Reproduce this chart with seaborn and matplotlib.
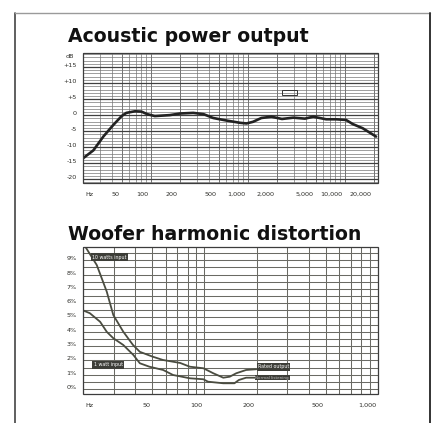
import numpy as np
import pandas as pd
import matplotlib
matplotlib.use("Agg")
import matplotlib.pyplot as plt
import matplotlib.transforms as mtrans
from matplotlib.ticker import FixedLocator, LogLocator, NullFormatter, MultipleLocator
from matplotlib.patches import Rectangle
from matplotlib.lines import Line2D
import seaborn as sns

# ---------------- data ----------------
power_freq = [20, 25.6, 32.4, 41, 50, 56, 68.6, 80, 92, 110, 157, 200, 274, 350, 440,
              605, 832, 970, 1130, 1380, 1750, 2250, 2950, 3880, 4730, 6420, 8100,
              10300, 12100, 15300, 21000]
power_db = [-13.5, -11.0, -6.7, -3.1, -0.3, 0.7, 1.2, 1.1, 0.3, -0.3, 0.0, 0.5, 0.7, 0.3,
            -0.9, -1.7, -2.4, -2.6, -2.1, -0.9, -0.5, -1.2, -0.8, -1.1, -0.5, -1.3, -1.3,
            -1.5, -2.8, -4.1, -6.7]

dist_freq_10w = [20.5, 24, 27.4, 29.9, 34.1, 38.8, 42.5, 50.4, 57.7, 65.8, 72.6, 82.4,
                 98.7, 112.6, 128.5, 140, 152.6, 174, 199]
dist_pct_10w = [10.0, 8.67, 6.81, 5.17, 4.01, 3.08, 2.6, 2.26, 2.03, 1.91, 1.82, 1.56,
                1.45, 1.1, 0.79, 0.86, 1.1, 1.33, 1.38]
dist_freq_1w = [20, 21.9, 25.1, 27.4, 29.9, 34.1, 39, 42.5, 48.2, 57.9, 66, 82.4, 98.7,
                105, 128.5, 149, 158, 174, 199]
dist_pct_1w = [5.5, 5.3, 4.7, 4.0, 3.55, 3.08, 2.38, 1.8, 1.56, 1.33, 0.98, 0.75, 0.68,
               0.51, 0.4, 0.4, 0.63, 0.79, 0.79]

power_yticks = [15, 10, 5, 0, -5, -10, -15, -20]
power_ylabels = ["+15", "+10", "+5", "0", "-5", "-10", "-15", "-20"]
power_xticks = [20, 50, 100, 200, 500, 1000, 2000, 5000, 10000, 20000]
power_xlabels = ["Hz", "50", "100", "200", "500", "1,000", "2,000", "5,000", "10,000", "20,000"]

dist_yticks = [9, 8, 7, 6, 5, 4, 3, 2, 1, 0]
dist_ylabels = ["9%", "8%", "7%", "6%", "5%", "4%", "3%", "2%", "1%", "0%"]
dist_xticks = [20, 50, 100, 200, 500, 1000]
dist_xlabels = ["Hz", "50", "100", "200", "500", "1,000"]

titles = ["Acoustic power output", "Woofer harmonic distortion"]

# ---------------- style ----------------
sns.set_style("white")
plt.rcParams["font.family"] = ["DejaVu Sans"]

W, H = 435, 423
fig = plt.figure(figsize=(W / 100, H / 100), dpi=100)
fig.patch.set_facecolor("white")

def fx(px):
    return px / W

def fy(py):
    return 1 - py / H

ink = "#2e2e2a"
tick_fs = 4.6


def setup_axes(ax, xticks, xlabels, yticks, ylabels):
    for s in ax.spines.values():
        s.set_visible(False)
    ax.spines["bottom"].set_position(("outward", 3.6))
    ax.add_patch(Rectangle((0, 0), 1, 1, transform=ax.transAxes, fill=False,
                           ec="#3c3c3c", lw=0.9, clip_on=False, zorder=5))
    ax.set_xticks(xticks)
    ax.set_xticklabels(xlabels)
    ax.set_yticks(yticks)
    ax.set_yticklabels(ylabels)
    ax.tick_params(axis="x", which="major", direction="out", length=10, width=0.8,
                   color="#555555", pad=-7.4, labelsize=tick_fs, labelcolor=ink)
    ax.tick_params(axis="y", which="major", direction="out", length=3, width=0.8,
                   color="#555555", pad=1.5, labelsize=tick_fs, labelcolor=ink)
    ax.tick_params(which="minor", length=0)
    for lbl, txt in zip(ax.get_xticklabels(), xlabels):
        if txt == "Hz":
            lbl.set_horizontalalignment("left")
            off = mtrans.ScaledTranslation(2 / 72, 0, fig.dpi_scale_trans)
        else:
            lbl.set_horizontalalignment("right")
            off = mtrans.ScaledTranslation(-1.5 / 72, 0, fig.dpi_scale_trans)
        lbl.set_transform(lbl.get_transform() + off)
    for lbl in ax.get_yticklabels():
        lbl.set_transform(lbl.get_transform() +
                          mtrans.ScaledTranslation(0, 1.5 / 72, fig.dpi_scale_trans))


# ---------------- top chart ----------------
ax1 = fig.add_axes([fx(83), fy(183), fx(295), 130 / H])
ax1.set_xscale("log")
df1 = pd.DataFrame({"freq": power_freq, "db": power_db})
sns.lineplot(data=df1, x="freq", y="db", ax=ax1, color="#222222", lw=1.9, zorder=4,
             estimator=None)
ax1.set_xlim(20, 22000)
ax1.set_ylim(-21.2, 19.4)
setup_axes(ax1, power_xticks, power_xlabels, power_yticks, power_ylabels)
ax1.xaxis.set_minor_locator(LogLocator(base=10, subs=np.arange(1, 10), numticks=50))
ax1.xaxis.set_minor_formatter(NullFormatter())
ax1.yaxis.set_minor_locator(MultipleLocator(1))
ax1.grid(which="minor", axis="both", color="#777777", lw=0.5)
ax1.grid(which="major", axis="x", color="#5c5c5c", lw=0.6)
ax1.grid(which="major", axis="y", color="#404040", lw=0.9)
ax1.set_xlabel("")
ax1.set_ylabel("")
ax1.text(-0.03, 0.972, "dB", transform=ax1.transAxes, ha="right", va="center",
         fontsize=tick_fs, color=ink)
ax1.add_patch(Rectangle((2250, 6.3), 950, 1.5, fill=False, ec="#333333", lw=0.7, zorder=4))

# ---------------- bottom chart ----------------
ax2 = fig.add_axes([fx(83), fy(394), fx(295), 147 / H])
ax2.set_xscale("log")
df2 = pd.DataFrame({
    "freq": dist_freq_10w + dist_freq_1w,
    "pct": dist_pct_10w + dist_pct_1w,
    "series": ["10 watts input"] * len(dist_freq_10w) + ["1 watt input"] * len(dist_freq_1w),
})
sns.lineplot(data=df2, x="freq", y="pct", hue="series", ax=ax2,
             palette=["#4a4c40", "#4a4c40"], lw=1.3, zorder=4, estimator=None,
             legend=False)
ax2.set_xlim(20, 1000)
ax2.set_ylim(-0.35, 9.93)
setup_axes(ax2, dist_xticks, dist_xlabels, dist_yticks, dist_ylabels)
ax2.xaxis.set_minor_locator(LogLocator(base=10, subs=np.arange(1, 10), numticks=50))
ax2.xaxis.set_minor_formatter(NullFormatter())
ax2.yaxis.set_minor_locator(MultipleLocator(0.5))
ax2.grid(which="both", axis="both", color="#6a6a64", lw=0.75)
ax2.set_xlabel("")
ax2.set_ylabel("")

box = dict(boxstyle="square,pad=0.25", fc="#3d3e38", ec="none")
ax2.text(22.6, 9.23, "10 watts input", fontsize=3.4, color="white", ha="left",
         va="center", bbox=box, zorder=6)
ax2.text(23.0, 1.68, "1 watt input", fontsize=3.4, color="white", ha="left",
         va="center", bbox=box, zorder=6)
ax2.text(203, 1.55, "Rated output", fontsize=3.4, color="white", ha="left",
         va="center", bbox=box, zorder=6)
ax2.text(197, 0.79, "Normal listening", fontsize=3.0, color="#bdbdbd", ha="left",
         va="center", bbox=dict(boxstyle="square,pad=0.1", fc="#3d3e38", ec="none"),
         zorder=6)

# ---------------- titles and frame ----------------
fig.text(fx(68), fy(41.5), titles[0], fontsize=13.6, fontweight="bold", color="#111111",
         ha="left", va="baseline")
fig.text(fx(68), fy(240), titles[1], fontsize=13.6, fontweight="bold", color="#111111",
         ha="left", va="baseline")

fig.add_artist(Line2D([fx(15), fx(15)], [fy(13), 0], color="#444444", lw=1.2))
fig.add_artist(Line2D([fx(15), fx(430)], [fy(13), fy(13)], color="#9a9a9a", lw=1.0))
fig.add_artist(Line2D([fx(430), fx(430)], [fy(13), 0], color="#333333", lw=1.4))

fig.savefig("out.png", dpi=100, facecolor="white")
